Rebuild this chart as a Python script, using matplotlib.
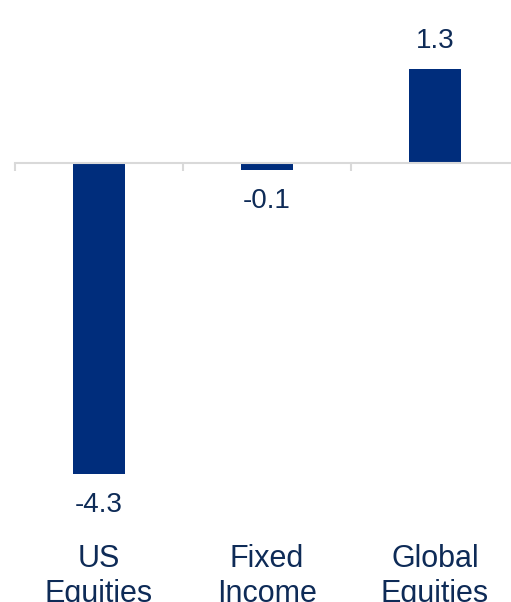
import matplotlib.pyplot as plt
import matplotlib.transforms as mtransforms

categories = ["US\nEquities", "Fixed\nIncome", "Global\nEquities"]
values = [-4.3, -0.1, 1.3]
value_labels = ["-4.3", "-0.1", "1.3"]

BAR = "#002d7c"
TEXT = "#0e2b57"
AXIS = "#d9d9d9"

plt.rcParams["font.family"] = ["Liberation Sans", "DejaVu Sans"]

W, H = 511, 602
fig = plt.figure(figsize=(W / 100, H / 100), dpi=100)
fig.set_facecolor("white")

# axes runs past the right edge, like the cropped original
left_px, right_px, top_px, bottom_px = 15, 519, 0, 520
ax = fig.add_axes([left_px / W, 1 - bottom_px / H,
                   (right_px - left_px) / W, (bottom_px - top_px) / H])

scale = 72.3  # px per unit
zero_px = 163
ax.set_ylim(-(bottom_px - zero_px) / scale, (zero_px - top_px) / scale)
ax.set_xlim(-0.5, 2.5)

x = list(range(len(values)))
ax.bar(x, values, width=0.31, color=BAR, zorder=2)

for side in ("top", "right", "left"):
    ax.spines[side].set_visible(False)
ax.spines["bottom"].set_position(("data", 0))
ax.spines["bottom"].set_color(AXIS)
ax.spines["bottom"].set_linewidth(1.5)
ax.spines["bottom"].set_zorder(3)
ax.set_yticks([])
ax.set_xticks([-0.5, 0.5, 1.5, 2.5])
ax.tick_params(axis="x", direction="out", length=6, width=1.5, color=AXIS,
               labelbottom=False)

for xi, v, lab in zip(x, values, value_labels):
    if v < 0:
        ax.annotate(lab, (xi, v), xytext=(0, -13), textcoords="offset points",
                    ha="center", va="top", fontsize=20, color=TEXT)
    else:
        ax.annotate(lab, (xi, v), xytext=(0, 11), textcoords="offset points",
                    ha="center", va="bottom", fontsize=20, color=TEXT)

# category labels sit below the plot; the second line is cropped as in the original
trans = mtransforms.blended_transform_factory(ax.transData, fig.transFigure)
for xi, cat in zip(x, categories):
    ax.text(xi, 1 - 544 / H, cat, transform=trans, ha="center", va="top",
            fontsize=22, color=TEXT, linespacing=1.2, clip_on=False)

fig.savefig("out.png", dpi=100, facecolor="white")
